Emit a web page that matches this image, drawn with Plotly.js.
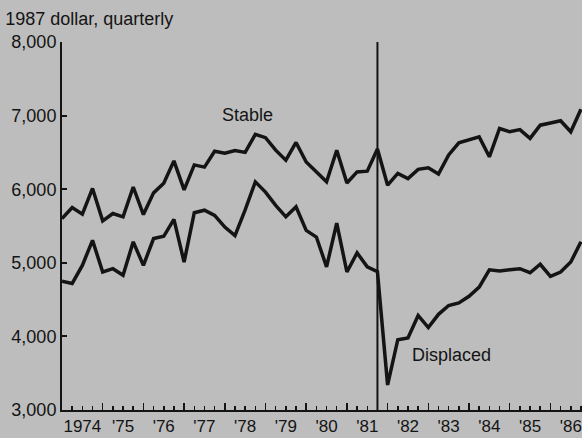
<!DOCTYPE html>
<html>
<head>
<meta charset="utf-8">
<script src="https://cdn.plot.ly/plotly-3.0.1.min.js"></script>
<style>
  html, body { margin: 0; padding: 0; background: #bdbdbd; }
  #chart { width: 582px; height: 438px; }
</style>
</head>
<body>
<div id="chart"></div>
<script>
// Quarterly data, 1974 Q1 .. 1986 Q4 (1987 dollars)
const startYear = 1974;
const endYear = 1986;
const yearLabels = ["1974", "'75", "'76", "'77", "'78", "'79", "'80", "'81", "'82", "'83", "'84", "'85", "'86"];

const stable = [
  5600, 5750, 5660, 6010,
  5570, 5670, 5625, 6030,
  5655, 5950, 6080, 6385,
  5990, 6330, 6300, 6515,
  6490, 6525, 6500, 6745,
  6700, 6530, 6395, 6635,
  6370, 6235, 6100, 6530,
  6085, 6235, 6245, 6545,
  6055, 6215, 6145, 6270,
  6290, 6205, 6465, 6630,
  6675, 6710, 6440, 6825,
  6780, 6810, 6690, 6870,
  6900, 6930, 6780, 7085
];

const displaced = [
  4750, 4720, 4965, 5305,
  4875, 4920, 4830, 5285,
  4965, 5330, 5360, 5590,
  5010, 5680, 5715, 5645,
  5485, 5370, 5720, 6100,
  5960, 5780, 5625, 5760,
  5440, 5350, 4945, 5540,
  4875, 5135, 4945, 4880,
  3340, 3955, 3980, 4285,
  4120, 4300, 4420, 4455,
  4545, 4670, 4905, 4890,
  4905, 4920, 4865, 4980,
  4815, 4875, 5010, 5285
];

// displacement marker: 1981 Q4
const breakYear = 1981, breakQuarter = 4;

// quarter positions (year + fraction)
const quarters = [];
for (let y = startYear; y <= endYear; y++) {
  for (let q = 1; q <= 4; q++) quarters.push(y + (q - 1) / 4);
}
const labelPos = yearLabels.map((_, i) => startYear + i + 0.5);
const breakX = breakYear + (breakQuarter - 1) / 4;

const ink = '#141414';
const bg = '#bdbdbd';
const fontFam = '"Liberation Sans", Arial, Helvetica, sans-serif';
const xRange = [1974, 1986.776];

const traces = [
  { x: quarters, y: stable, type: 'scatter', mode: 'lines', name: 'Stable',
    line: { color: ink, width: 3.5, shape: 'linear' }, hoverinfo: 'skip' },
  { x: quarters, y: displaced, type: 'scatter', mode: 'lines', name: 'Displaced',
    line: { color: ink, width: 3.5, shape: 'linear' }, hoverinfo: 'skip' },
  { x: [quarters[0]], y: [3000], xaxis: 'x2', type: 'scatter', mode: 'markers',
    marker: { opacity: 0 }, hoverinfo: 'skip', showlegend: false }
];

const layout = {
  width: 582, height: 438,
  margin: { l: 62, r: 0, t: 42, b: 28, pad: 0 },
  paper_bgcolor: bg, plot_bgcolor: bg,
  showlegend: false,
  font: { family: fontFam, size: 18, color: ink },
  title: { text: '1987 dollar, quarterly', x: 0.009, xanchor: 'left',
           xref: 'container', y: 0.957, yref: 'container', yanchor: 'middle',
           font: { family: fontFam, size: 18, color: ink } },
  xaxis: {
    range: xRange, showgrid: false, zeroline: false,
    showline: true, linecolor: ink, linewidth: 2,
    tickmode: 'array', tickvals: labelPos, ticktext: yearLabels,
    ticks: '', tickfont: { family: fontFam, size: 17, color: ink },
    ticklabelstandoff: 0, ticklabeloverflow: 'allow'
  },
  xaxis2: {
    range: xRange, overlaying: 'x', anchor: 'y', side: 'bottom',
    showgrid: false, zeroline: false, showline: false, showticklabels: false,
    tickmode: 'linear', tick0: 1974, dtick: 1,
    ticks: 'inside', ticklen: 7, tickwidth: 1.5, tickcolor: ink,
    minor: { tickmode: 'linear', tick0: 1974, dtick: 0.25, ticks: 'inside',
             ticklen: 4, tickwidth: 1.5, tickcolor: ink, showgrid: false }
  },
  yaxis: {
    range: [3000, 8000], showgrid: false, zeroline: false,
    showline: true, linecolor: ink, linewidth: 2,
    tickmode: 'linear', tick0: 3000, dtick: 1000, tickformat: ',d',
    ticks: 'inside', ticklen: 5, tickwidth: 2, tickcolor: ink,
    tickfont: { family: fontFam, size: 18, color: ink }
  },
  shapes: [
    { type: 'line', xref: 'x', yref: 'y', x0: breakX, x1: breakX, y0: 3000, y1: 8000,
      line: { color: ink, width: 2 }, layer: 'above' }
  ],
  annotations: [
    { text: 'Stable', x: 1978.55, y: 7010, xref: 'x', yref: 'y', showarrow: false,
      xanchor: 'center', yanchor: 'middle', font: { family: fontFam, size: 18, color: ink } },
    { text: 'Displaced', x: 1983.56, y: 3747, xref: 'x', yref: 'y', showarrow: false,
      xanchor: 'center', yanchor: 'middle', font: { family: fontFam, size: 18, color: ink } }
  ]
};

Plotly.newPlot('chart', traces, layout, { displayModeBar: false, staticPlot: true });
</script>
</body>
</html>
